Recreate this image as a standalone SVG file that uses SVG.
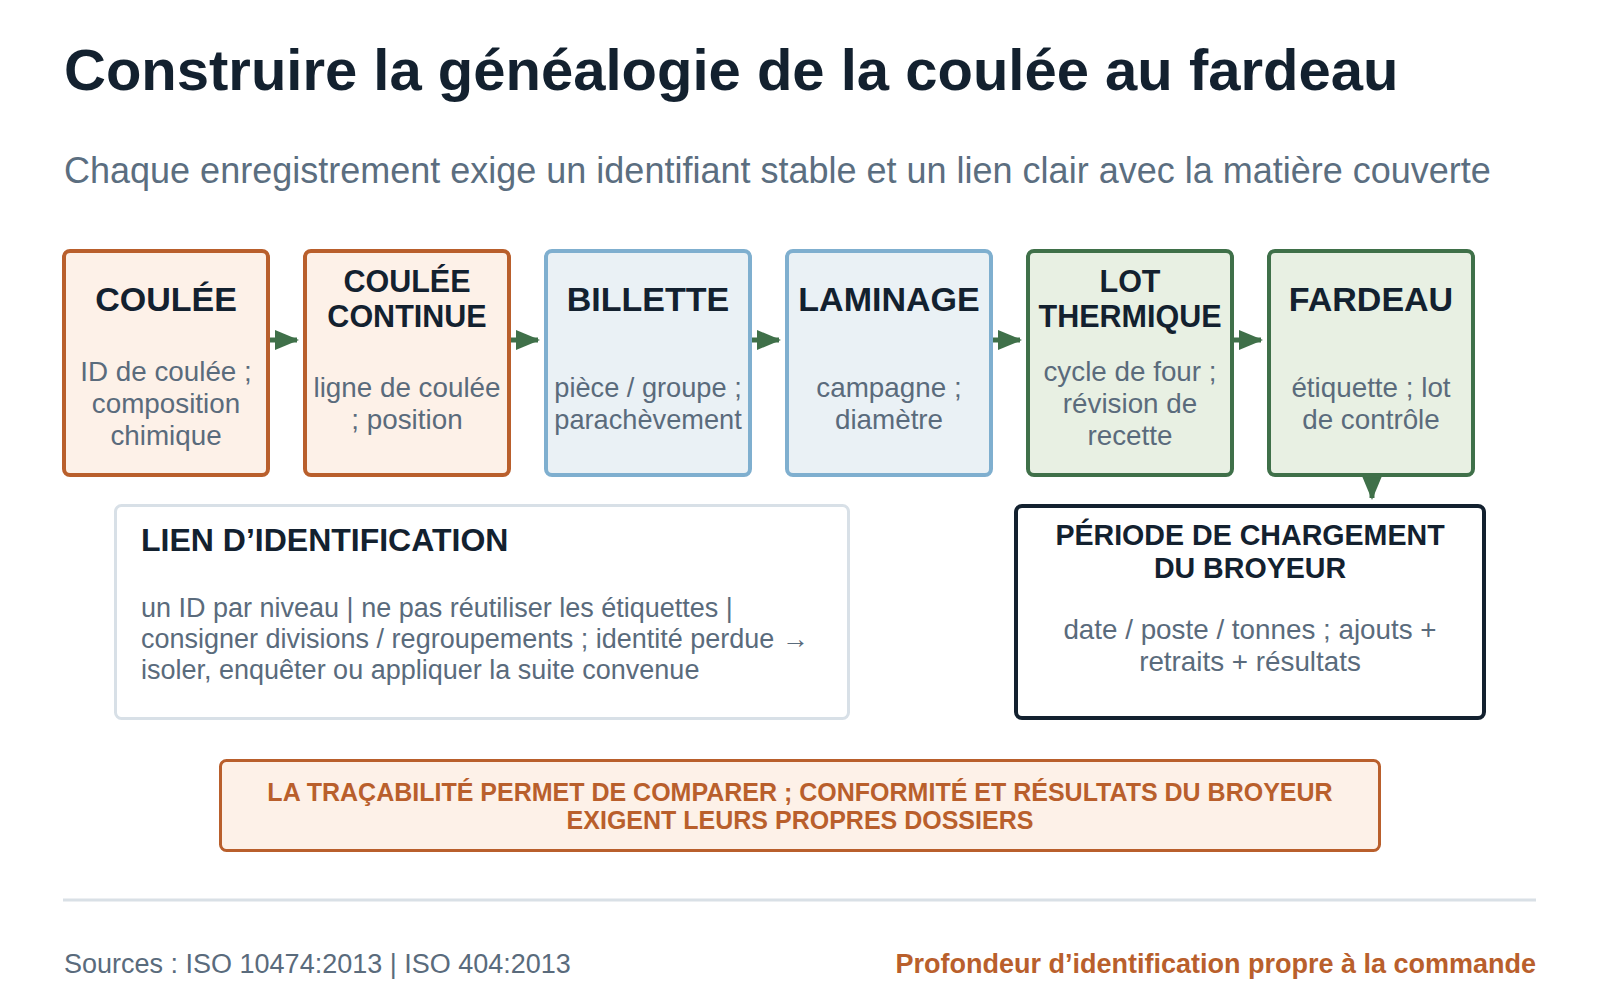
<svg xmlns="http://www.w3.org/2000/svg" width="1600" height="1000" viewBox="0 0 1600 1000">
<defs>
<style>
text{font-family:"Liberation Sans",Arial,sans-serif}
.title{font-size:58px;font-weight:bold;fill:#13212F}
.sub{font-size:36px;fill:#5B6E80}
.h1{font-size:34px;font-weight:bold;fill:#13212F;text-anchor:middle}
.h2{font-size:30.5px;font-weight:bold;fill:#13212F;text-anchor:middle}
.b{font-size:27.8px;fill:#5A6B7C;text-anchor:middle}
.or{fill:#FDF1E8;stroke:#B95F2C;stroke-width:4}
.bl{fill:#EAF1F5;stroke:#7FAFCF;stroke-width:4}
.gr{fill:#E8F0E3;stroke:#3F7049;stroke-width:4}
.conn{stroke:#3F7049;stroke-width:5;fill:none}
.lb{font-size:27px;fill:#5A6B7C}
</style>
<marker id="ah" viewBox="0 0 24 20" refX="22" refY="10" markerWidth="24" markerHeight="20" markerUnits="userSpaceOnUse" orient="auto">
<path d="M0,0 L24,10 L0,20 Z" fill="#3F7049"/>
</marker>
</defs>
<rect width="1600" height="1000" fill="#FFFFFF"/>
<text class="title" x="64" y="90">Construire la généalogie de la coulée au fardeau</text>
<text class="sub" x="64" y="183">Chaque enregistrement exige un identifiant stable et un lien clair avec la matière couverte</text>

<g id="connectors">
<line class="conn" x1="268" y1="340" x2="297" y2="340" marker-end="url(#ah)"/>
<line class="conn" x1="509" y1="340" x2="538" y2="340" marker-end="url(#ah)"/>
<line class="conn" x1="750" y1="340" x2="779" y2="340" marker-end="url(#ah)"/>
<line class="conn" x1="991" y1="340" x2="1020" y2="340" marker-end="url(#ah)"/>
<line class="conn" x1="1232" y1="340" x2="1261" y2="340" marker-end="url(#ah)"/>
<line class="conn" x1="1372" y1="475" x2="1372" y2="498" marker-end="url(#ah)"/>
</g>

<g id="coulee">
<rect class="or" x="64" y="251" width="204" height="224" rx="6"/>
<text class="h1" x="166" y="311">COULÉE</text>
<text class="b" x="166" y="381">ID de coulée ;</text>
<text class="b" x="166" y="413">composition</text>
<text class="b" x="166" y="445">chimique</text>
</g>
<g id="coulee-continue">
<rect class="or" x="305" y="251" width="204" height="224" rx="6"/>
<text class="h2" x="407" y="292">COULÉE</text>
<text class="h2" x="407" y="327">CONTINUE</text>
<text class="b" x="407" y="397">ligne de coulée</text>
<text class="b" x="407" y="429">; position</text>
</g>
<g id="billette">
<rect class="bl" x="546" y="251" width="204" height="224" rx="6"/>
<text class="h1" x="648" y="311">BILLETTE</text>
<text class="b" x="648" y="397" style="font-size:27.2px">pièce / groupe ;</text>
<text class="b" x="648" y="429" style="font-size:27.2px">parachèvement</text>
</g>
<g id="laminage">
<rect class="bl" x="787" y="251" width="204" height="224" rx="6"/>
<text class="h1" x="889" y="311">LAMINAGE</text>
<text class="b" x="889" y="397">campagne ;</text>
<text class="b" x="889" y="429">diamètre</text>
</g>
<g id="lot-thermique">
<rect class="gr" x="1028" y="251" width="204" height="224" rx="6"/>
<text class="h2" x="1130" y="292">LOT</text>
<text class="h2" x="1130" y="327">THERMIQUE</text>
<text class="b" x="1130" y="381">cycle de four ;</text>
<text class="b" x="1130" y="413">révision de</text>
<text class="b" x="1130" y="445">recette</text>
</g>
<g id="fardeau">
<rect class="gr" x="1269" y="251" width="204" height="224" rx="6"/>
<text class="h1" x="1371" y="311">FARDEAU</text>
<text class="b" x="1371" y="397">étiquette ; lot</text>
<text class="b" x="1371" y="429">de contrôle</text>
</g>

<g id="lien-identification">
<rect x="115.5" y="505.5" width="733" height="213" rx="6" fill="#FFFFFF" stroke="#D8E0E7" stroke-width="3"/>
<text x="141" y="551" style="font-size:32px;font-weight:bold;fill:#13212F">LIEN D’IDENTIFICATION</text>
<text class="lb" x="141" y="617">un ID par niveau | ne pas réutiliser les étiquettes |</text>
<text class="lb" x="141" y="648">consigner divisions / regroupements ; identité perdue →</text>
<text class="lb" x="141" y="679">isoler, enquêter ou appliquer la suite convenue</text>
</g>

<g id="periode-chargement">
<rect x="1016" y="506" width="468" height="212" rx="6" fill="#FFFFFF" stroke="#13212F" stroke-width="4"/>
<text x="1250" y="545" style="font-size:28.6px;font-weight:bold;fill:#13212F;text-anchor:middle">PÉRIODE DE CHARGEMENT</text>
<text x="1250" y="578" style="font-size:28.6px;font-weight:bold;fill:#13212F;text-anchor:middle">DU BROYEUR</text>
<text class="b" x="1250" y="639">date / poste / tonnes ; ajouts +</text>
<text class="b" x="1250" y="671">retraits + résultats</text>
</g>

<g id="banner">
<rect x="220.5" y="760.5" width="1159" height="90" rx="6" fill="#FDF1E8" stroke="#B95F2C" stroke-width="3"/>
<text x="800" y="801" style="font-size:25px;font-weight:bold;fill:#B95F2C;text-anchor:middle">LA TRAÇABILITÉ PERMET DE COMPARER ; CONFORMITÉ ET RÉSULTATS DU BROYEUR</text>
<text x="800" y="829" style="font-size:25px;font-weight:bold;fill:#B95F2C;text-anchor:middle">EXIGENT LEURS PROPRES DOSSIERS</text>
</g>

<line x1="63" y1="900" x2="1536" y2="900" stroke="#D9E0E6" stroke-width="3"/>
<text x="64" y="973" style="font-size:27px;fill:#5A6B7C">Sources : ISO 10474:2013 | ISO 404:2013</text>
<text x="1536" y="973" style="font-size:27px;font-weight:bold;fill:#B95F2C;text-anchor:end">Profondeur d’identification propre à la commande</text>
</svg>
